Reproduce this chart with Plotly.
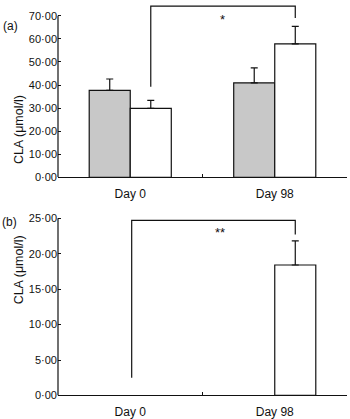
import plotly.graph_objects as go

# ---- data ----
categories = ["Day 0", "Day 98"]

# panel (a)
a_grey = [37.7, 40.9]
a_grey_err = [4.9, 6.5]
a_white = [29.9, 57.8]
a_white_err = [3.4, 7.6]

# panel (b)
b_grey = [None, None]
b_white = [None, 18.4]
b_white_err = [0, 3.4]

a_tickvals = [0, 10, 20, 30, 40, 50, 60, 70]
a_ticktext = ["0·00", "10·00", "20·00", "30·00", "40·00", "50·00", "60·00", "70·00"]
b_tickvals = [0, 5, 10, 15, 20, 25]
b_ticktext = ["0·00", "5·00", "10·00", "15·00", "20·00", "25·00"]

# significance brackets (x in category units, y in data units)
a_bracket = dict(x0=0.142, x1=1.142, top=74.2, left_bottom=39.2, right_bottom=69.0, label="*", lx=0.64, ly=68.3)
b_bracket = dict(x0=0.01, x1=1.142, top=24.7, left_bottom=2.5, right_bottom=22.7, label="**", lx=0.62, ly=23.0)

FONT = "Liberation Sans, Arial, sans-serif"
BLACK = "#111111"
GREY = "#c8c8c8"

fig = go.Figure()

def add_bars(vals, errs, color, xa, ya):
    err = None
    if errs is not None:
        err = dict(type="data", array=errs, arrayminus=[0] * len(errs), symmetric=False,
                   width=3.5, thickness=1.2, color=BLACK)
    fig.add_trace(go.Bar(x=categories, y=vals, marker=dict(color=color, line=dict(color=BLACK, width=1.2)),
                         error_y=err, xaxis=xa, yaxis=ya, showlegend=False, hoverinfo="skip"))

add_bars(a_grey, a_grey_err, GREY, "x", "y")
add_bars(a_white, a_white_err, "white", "x", "y")
add_bars(b_grey, None, GREY, "x2", "y2")
add_bars(b_white, b_white_err, "white", "x2", "y2")

xdom = [58 / 350, 347 / 350]
xcommon = dict(type="category", categoryorder="array", categoryarray=categories,
               range=[-0.5, 1.5], domain=xdom, showline=True, linecolor=BLACK, linewidth=1.2,
               ticks="inside", ticklen=3, tickcolor=BLACK, tickson="boundaries", ticklabelstandoff=5,
               showgrid=False, zeroline=False, tickfont=dict(family=FONT, size=12, color=BLACK),
               fixedrange=True)
ycommon = dict(showline=False, ticks="inside", ticklen=3, tickcolor=BLACK, showgrid=False,
               zeroline=False, tickfont=dict(family=FONT, size=11, color=BLACK), fixedrange=True)

fig.update_layout(
    width=350, height=419,
    margin=dict(l=0, r=0, t=0, b=0),
    paper_bgcolor="white", plot_bgcolor="white",
    barmode="group", bargap=0.432, bargroupgap=0,
    xaxis=dict(anchor="y", **xcommon),
    yaxis=dict(anchor="x", domain=[1 - 177 / 419, 1], range=[0, 177 / 2.371],
               tickmode="array", tickvals=a_tickvals, ticktext=a_ticktext, **ycommon),
    xaxis2=dict(anchor="y2", **xcommon),
    yaxis2=dict(anchor="x2", domain=[1 - 401 / 419, 1 - 217.5 / 419], range=[0, 25.2],
                tickmode="array", tickvals=b_tickvals, ticktext=b_ticktext, **ycommon),
)

# y axis lines ending at top tick
for xr, yr, top in [("x domain", "y", a_tickvals[-1]), ("x2 domain", "y2", b_tickvals[-1])]:
    fig.add_shape(type="line", xref=xr, yref=yr, x0=0, x1=0, y0=0, y1=top,
                  line=dict(color=BLACK, width=1.2))

# brackets
for br, xr, yr in [(a_bracket, "x", "y"), (b_bracket, "x2", "y2")]:
    path = (f"M {br['x0']},{br['left_bottom']} L {br['x0']},{br['top']} "
            f"L {br['x1']},{br['top']} L {br['x1']},{br['right_bottom']}")
    fig.add_shape(type="path", xref=xr, yref=yr, path=path, line=dict(color=BLACK, width=1.2))
    fig.add_annotation(x=br["lx"], y=br["ly"], xref=xr, yref=yr, text=br["label"], showarrow=False,
                       font=dict(family=FONT, size=13, color=BLACK))

# axis titles and panel labels
for yc in [(91 / 419), (310 / 419)]:
    fig.add_annotation(x=10 / 350, y=1 - yc, xref="paper", yref="paper", text="CLA (μmol/l)",
                       textangle=-90, showarrow=False, font=dict(family=FONT, size=12.5, color=BLACK))
fig.add_annotation(x=1 / 350, y=1 - 12 / 419, xref="paper", yref="paper", text="(a)", xanchor="left",
                   showarrow=False, font=dict(family=FONT, size=12, color=BLACK))
fig.add_annotation(x=0, y=1 - 223 / 419, xref="paper", yref="paper", text="(b)", xanchor="left",
                   showarrow=False, font=dict(family=FONT, size=12, color=BLACK))

fig.write_html("out.html", config={"displayModeBar": False},
               post_script="document.body.style.margin='0';document.body.style.overflow='hidden';")
